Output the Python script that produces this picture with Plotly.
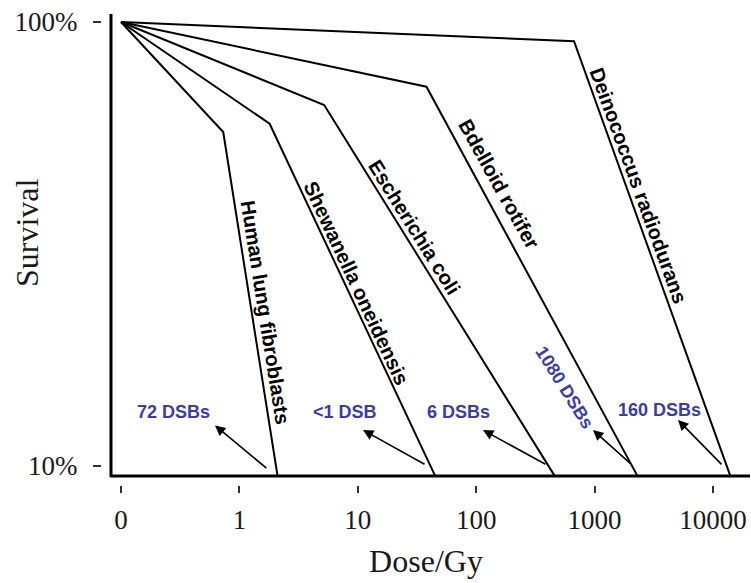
import numpy as np
import plotly.graph_objects as go

# ---------------- data ----------------
organisms = ["Human lung fibroblasts", "Shewanella oneidensis", "Escherichia coli",
             "Bdelloid rotifer", "Deinococcus radiodurans"]
start_dose = [0, 0, 0, 0, 0]                 # Gy
start_surv = [100, 100, 100, 100, 100]       # %
shoulder_dose = [0.73, 1.8, 5.2, 38, 670]    # Gy
shoulder_surv = [56.5, 59, 65, 71.5, 90.5]   # %
end_dose = [2.1, 45, 460, 2300, 14000]       # Gy
end_surv = [9.5, 9.5, 9.5, 9.5, 9.5]         # %

dsb_labels = ["72 DSBs", "<1 DSB", "6 DSBs", "1080 DSBs", "160 DSBs"]

x_tick_vals = [0, 1, 10, 100, 1000, 10000]
x_tick_text = ["0", "1", "10", "100", "1000", "10000"]
y_tick_vals = [10, 100]
y_tick_text = ["10%", "100%"]

# dose 0 drawn at the axis-break position of the log axis
ZERO_POS = 0.1


def xpos(d):
    return d if d > 0 else ZERO_POS


# ---------------- layout constants ----------------
W, H = 751, 583
X_RANGE = [-1.1605, 4.3125]   # log10 units
Y_RANGE = [0.9572, 2.018]     # log10 units
AXIS_Y = 9.5                  # survival at which the x-axis line is drawn
AXIS_X = 0.0823               # dose position of the y-axis line

serif = "Liberation Serif"
sans = "Liberation Sans"
blue = "#3b3bab"

fig = go.Figure()

for i, name in enumerate(organisms):
    xs = [xpos(start_dose[i]), xpos(shoulder_dose[i]), xpos(end_dose[i])]
    ys = [start_surv[i], shoulder_surv[i], end_surv[i]]
    fig.add_trace(go.Scatter(x=xs, y=ys, mode="lines", name=name,
                             line=dict(color="black", width=2),
                             showlegend=False, hoverinfo="name"))

# label placement (dose, survival) and angle
label_pos = [(1.644, 22.2, 81), (9.66, 25.8, 65), (29.8, 34.5, 58),
             (155.8, 43.2, 61), (2326, 42.9, 70)]
annotations = []
for name, (lx, ly, ang) in zip(organisms, label_pos):
    annotations.append(dict(x=np.log10(lx), y=np.log10(ly), xref="x", yref="y",
                            text="<b>%s</b>" % name, showarrow=False,
                            textangle=ang, xanchor="center", yanchor="middle",
                            font=dict(family=sans, size=20.3, color="black")))

dsb_pos = [(0.275, 13.2, 0), (7.80, 13.2, 0), (70.2, 13.2, 0),
           (562, 15.0, 58), (3567, 13.4, 0)]
for t, (lx, ly, ang) in zip(dsb_labels, dsb_pos):
    annotations.append(dict(x=np.log10(lx), y=np.log10(ly), xref="x", yref="y",
                            text="<b>%s</b>" % t.replace("<", "&lt;"), showarrow=False,
                            textangle=ang, xanchor="center", yanchor="middle",
                            font=dict(family=sans, size=18, color=blue)))

arrow_heads = [(0.622, 12.34, 53, 44), (11.07, 12.05, 63, 35), (114.1, 12.05, 64, 35),
               (969.4, 12.05, 39, 35), (5063, 12.7, 45, 46)]
for hx, hy, ax, ay in arrow_heads:
    annotations.append(dict(x=np.log10(hx), y=np.log10(hy), xref="x", yref="y",
                            text="", showarrow=True, ax=ax, ay=ay,
                            arrowhead=2, arrowsize=1.3, arrowwidth=1.6,
                            arrowcolor="black", standoff=0))

# margins (pixels)
pl, pr, pt, pb = 102, 1, 14, 98
pw, ph = W - pl - pr, H - pt - pb

# y-axis title placed left of the axis, centred at its pixel spot
annotations.append(dict(x=(27 - pl) / pw, y=(H - pb - 233) / ph,
                        xref="paper", yref="paper", text="Survival",
                        showarrow=False, textangle=-90,
                        xanchor="center", yanchor="middle",
                        font=dict(family=serif, size=32, color="#1a1a1a")))

# axis lines (drawn separately so the ticks stand off from them)
ax_py = (np.log10(AXIS_Y) - Y_RANGE[0]) / (Y_RANGE[1] - Y_RANGE[0])
ax_px = (np.log10(AXIS_X) - X_RANGE[0]) / (X_RANGE[1] - X_RANGE[0])
shapes = [
    dict(type="line", xref="paper", yref="paper", x0=ax_px, x1=1.0, y0=ax_py, y1=ax_py,
         line=dict(color="black", width=3)),
    dict(type="line", xref="paper", yref="paper", x0=ax_px, x1=ax_px, y0=ax_py - 0.003, y1=1.0,
         line=dict(color="black", width=3)),
]

fig.update_layout(
    width=W, height=H,
    margin=dict(l=pl, r=pr, t=pt, b=pb, autoexpand=False),
    paper_bgcolor="white", plot_bgcolor="white",
    showlegend=False,
    annotations=annotations,
    shapes=shapes,
    xaxis=dict(type="log", range=X_RANGE, automargin=False,
               tickvals=[xpos(v) for v in x_tick_vals], ticktext=x_tick_text,
               ticks="outside", ticklen=7, tickwidth=2, tickcolor="#333",
               showline=False, showgrid=False, zeroline=False,
               tickfont=dict(family=serif, size=27, color="#1a1a1a"),
               ticklabelstandoff=4,
               title=dict(text="Dose/Gy", standoff=15,
                          font=dict(family=serif, size=32, color="#1a1a1a"))),
    yaxis=dict(type="log", range=Y_RANGE, automargin=False,
               tickvals=y_tick_vals, ticktext=y_tick_text,
               ticks="outside", ticklen=8, tickwidth=2, tickcolor="#333",
               showline=False, showgrid=False, zeroline=False,
               tickfont=dict(family=serif, size=27, color="#1a1a1a"),
               ticklabelstandoff=10),
)

fig.write_html("out.html", config={"displayModeBar": False},
               post_script="document.body.style.margin='0';")
